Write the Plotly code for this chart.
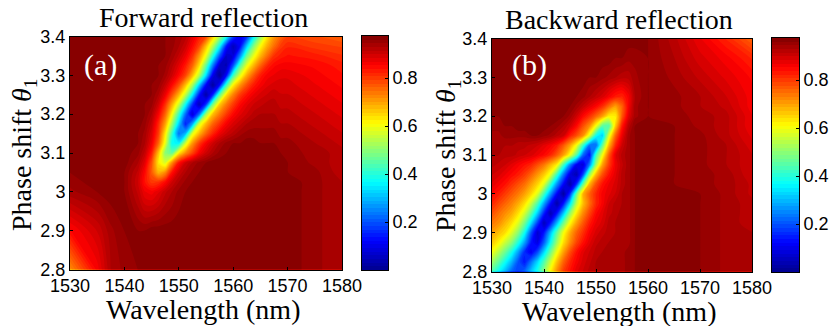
import plotly.graph_objects as go

# wavelength (nm) and phase grids, values in hundredths of reflectance
wave_a = [1530,1535,1537.5,1540,1542.5,1543.75,1545,1546.25,1547.5,1548.75,1550,1551.25,1552.5,1553.75,1555,1556.25,1557.5,1558.75,1560,1561.25,1562.5,1563.75,1565,1566.25,1567.5,1568.75,1570,1575,1580]
phase_a = [2.8,2.9,3.0,3.025,3.05,3.075,3.1,3.125,3.15,3.175,3.2,3.225,3.25,3.275,3.3,3.325,3.35,3.375,3.4]
forward = [
 [72,86,93,95,96]+[97]*22+[95,93],
 [85,90,94,96,96,96]+[97]*21+[95,93],
 [94,96,97,96,91,87,86,88,91,93,95,96]+[97]*15+[95,93],
 [95,97,97,96,90,84,80,81,85,90,93,95,96]+[97]*14+[95,93],
 [96,97,97,96,91,85,77,68,72,84,90,93,95,96]+[97]*12+[96,95,92],
 [97,97,97,97,93,88,78,63,57,72,84,90,93,95,96]+[97]*11+[96,94,92],
 [97,97,97,97,95,91,83,67,50,46,63,72,79,86,90,93,95,96]+[97]*6+[96,96,95,94,92],
 [97,97,97,97,96,93,87,76,59,37,36,57,71,80,86,90,93,95,96,96,97,97,96,96,96,95,95,93,91],
 [97,97,97,97,96,94,89,80,63,42,23,30,58,68,76,82,87,90,92,94,95,95,95,95,95,94,94,92,90],
 [97,97,97,97,97,95,91,82,70,52,32,15,28,57,68,76,81,86,89,91,93,94,94,94,94,93,93,91,89],
 [97,97,97,97,97,96,93,86,76,61,42,22,8,22,52,67,74,80,85,88,90,92,93,93,93,92,92,90,88],
 [97,97,97,97,97,96,95,90,81,69,56,37,17,5,17,48,66,74,80,85,88,90,91,92,92,91,91,89,87],
 [97,97,97,97,97,97,96,93,87,78,68,55,36,14,3,15,45,64,73,80,84,87,89,90,91,90,90,88,86],
 [97,97,97,97,97,97,96,95,91,85,78,67,53,32,12,2,12,42,62,71,78,83,86,88,89,89,89,87,85],
 [97,97,97,97,96,96,96,96,94,90,85,79,68,54,34,10,1,12,42,58,69,77,83,86,87,88,88,86,84],
 [97,97,97,97,96,96,96,96,95,92,88,83,76,64,46,24,6,4,20,44,59,68,76,82,85,86,86,85,83],
 [97,97,97,97,96,96,96,96,96,94,91,87,81,71,59,40,20,6,8,25,47,59,68,75,81,83,84,83,81],
 [97,97,97,97,96,96,96,96,96,95,93,90,85,79,67,54,37,14,5,12,32,49,61,69,75,80,82,80,79],
 [97,97,97,97,96,96,96,96,96,95,94,92,88,83,79,66,53,38,18,10,16,35,50,63,71,76,79,78,76],
]

wave_b = [1530,1531.25,1532.5,1533.75,1535,1536.25,1537.5,1538.75,1540,1541.25,1542.5,1543.75,1545,1546.25,1547.5,1548.75,1550,1551.25,1552.5,1553.75,1555,1556.25,1557.5,1560,1565,1570,1575,1580]
phase_b = [2.8,2.825,2.85,2.875,2.9,2.925,2.95,2.975,3.0,3.025,3.05,3.075,3.1,3.125,3.15,3.175,3.2,3.225,3.25,3.3,3.35,3.4]
backward = [
 [44,37,30,22,18,22,31,39,50,62,72,80,84,88,90,92,93,94,94,94,94,95,96,96,96,96,94,93],
 [52,46,38,30,20,14,23,33,44,56,67,76,82,86,89,91,93,94,94,94,94,95,96,96,96,96,94,93],
 [60,54,47,39,28,16,11,19,33,47,60,70,78,84,88,90,92,93,94,94,94,95,96,96,96,96,94,93],
 [66,62,56,50,40,28,14,9,21,37,52,64,72,79,84,88,91,92,93,94,94,94,96,96,96,96,94,93],
 [70,67,64,58,50,38,20,7,14,30,46,60,69,76,81,86,89,91,92,93,94,94,96,96,96,96,94,93],
 [74,72,68,64,58,48,34,18,5,14,30,47,61,70,77,83,87,89,92,93,94,94,96,96,96,96,94,92],
 [78,75,72,69,64,57,46,32,15,4,14,31,50,63,72,79,85,88,91,92,94,94,96,96,96,96,94,92],
 [82,79,76,73,69,64,56,44,28,13,3,14,34,55,67,75,82,86,90,92,93,94,96,96,96,96,94,92],
 [85,83,80,77,74,70,65,58,43,27,12,2,16,46,68,76,82,86,88,90,93,94,96,96,96,96,94,91],
 [88,86,84,81,78,75,70,65,58,42,26,12,3,16,46,68,78,84,87,89,92,94,96,96,96,95,94,91],
 [90,89,87,85,83,80,76,71,66,59,42,24,9,4,18,50,68,78,84,88,92,94,96,96,96,95,94,90],
 [92,91,90,88,86,84,82,78,74,68,62,43,25,11,8,24,52,70,80,87,91,94,96,96,96,95,93,90],
 [93,93,92,92,91,90,89,87,85,82,77,70,60,45,22,13,42,60,77,88,92,94,96,96,96,95,93,90],
 [94,94,93,93,92,92,91,90,88,86,83,77,70,60,42,23,22,46,68,82,90,94,96,96,96,95,93,89],
 [94,94,95,95,95,95,96,96,95,94,92,90,83,78,72,58,38,32,58,76,87,94,96,96,96,95,92,88],
 [95,95,96,96,97,97,97,97,97,96,95,93,90,85,78,72,60,45,44,66,83,92,96,96,96,94,92,87],
 [96,96,97,97,97,97,97,97,97,97,97,96,94,90,85,81,76,70,62,62,77,88,94,96,95,94,92,87],
 [96,97,97,97,97,97,97,97,97,97,97,97,96,94,91,88,85,81,75,70,76,86,94,96,95,93,91,86],
 [96,97,97,97,97,97,97,97,97,97,97,97,97,96,95,93,91,89,86,83,82,86,93,96,95,93,90,86],
 [97,97,97,97,97,97,97,97,97,97,97,97,97,97,97,96,96,95,94,93,92,92,94,96,94,91,88,85],
 [97,97,97,97,97,97,97,97,97,97,97,97,97,97,97,97,97,97,97,96,96,95,95,96,93,89,86,82],
 [97,97,97,97,97,97,97,97,97,97,97,97,97,97,97,97,97,97,97,97,97,97,97,96,92,87,82,76],
]

x_ticks = [1530,1540,1550,1560,1570,1580]
y_ticks = [2.8,2.9,3.0,3.1,3.2,3.3,3.4]
y_tick_labels = ["2.8","2.9","3","3.1","3.2","3.3","3.4"]
bar_ticks = [0.2,0.4,0.6,0.8]
bar_top = 0.975
bar_steps = 64

W, H = 831, 326
jet = [[0,"#00008F"],[0.125,"#0000FF"],[0.375,"#00FFFF"],[0.625,"#FFFF00"],[0.875,"#FF0000"],[1,"#800000"]]
SANS = "Liberation Sans"
SERIF = "Liberation Serif"
bar_levels = [(i + 0.5) * bar_top / bar_steps for i in range(bar_steps)]

def px(v): return v / W
def py(v): return 1 - v / H

def contour(xs, ys, table, xa, ya):
    return go.Contour(
        x=xs, y=ys, z=[[v / 100 for v in row] for row in table], xaxis=xa, yaxis=ya,
        colorscale=jet, zmin=0, zmax=bar_top, autocontour=False, showscale=False,
        contours=dict(start=0, end=bar_top, size=bar_top / bar_steps, coloring="fill", showlines=False),
        line=dict(width=0),
    )

def bar(xa, ya):
    return go.Heatmap(x=[0], y=bar_levels, z=[[v] for v in bar_levels], xaxis=xa, yaxis=ya,
                      colorscale=jet, zmin=0, zmax=bar_top, showscale=False)

fig = go.Figure()
fig.add_trace(contour(wave_a, phase_a, forward, "x", "y"))
fig.add_trace(contour(wave_b, phase_b, backward, "x2", "y2"))
fig.add_trace(bar("x3", "y3"))
fig.add_trace(bar("x4", "y4"))

def axis_style():
    return dict(mirror=True, showline=True, linecolor="black", linewidth=1, ticks="inside", ticklen=3,
                tickcolor="black", showgrid=False, zeroline=False, layer="above traces", automargin=False,
                tickangle=0, tickfont=dict(family=SANS, size=18, color="black"))

def bar_axes(x0, x1, y0, y1, anchor_x, anchor_y):
    xa = dict(domain=[px(x0), px(x1)], range=[-0.5, 0.5], anchor=anchor_y, showticklabels=False, ticks="",
              mirror=True, showline=True, linecolor="black", showgrid=False, zeroline=False, automargin=False)
    ya = dict(domain=[py(y1), py(y0)], range=[0, bar_top], anchor=anchor_x, side="right",
              tickvals=bar_ticks, ticktext=[str(t) for t in bar_ticks], **axis_style())
    return xa, ya

x3, y3 = bar_axes(361.5, 388, 36, 270, "x3", "y3")
x4, y4 = bar_axes(772, 799, 38, 272, "x4", "y4")
x3["anchor"] = "y3"
x4["anchor"] = "y4"

fig.update_layout(
    width=W, height=H, margin=dict(l=0, r=0, t=0, b=0), paper_bgcolor="white", plot_bgcolor="white",
    xaxis=dict(domain=[px(70), px(342)], range=[1530, 1580], tickvals=x_ticks, **axis_style()),
    yaxis=dict(domain=[py(269.5), py(36.5)], range=[2.8, 3.4], tickvals=y_ticks, ticktext=y_tick_labels, **axis_style()),
    xaxis2=dict(domain=[px(492), px(752)], range=[1530, 1580], tickvals=x_ticks, anchor="y2", **axis_style()),
    yaxis2=dict(domain=[py(271.5), py(38.5)], range=[2.8, 3.4], tickvals=y_ticks, ticktext=y_tick_labels, anchor="x2", **axis_style()),
    xaxis3=x3, yaxis3=y3, xaxis4=x4, yaxis4=y4,
)

def label(text, x, y, size, color="black", angle=0):
    fig.add_annotation(text=text, x=px(x), y=py(y), xref="paper", yref="paper", showarrow=False,
                       xanchor="center", yanchor="middle", textangle=angle,
                       font=dict(family=SERIF, size=size, color=color))

label("Forward reflection", 203, 17, 28)
label("Backward reflection", 619, 19, 28)
label("Wavelength (nm)", 203, 309, 28)
label("Wavelength (nm)", 619, 311, 28)
label("Phase shift <i>θ</i><sub>1</sub>", 24, 155, 28, angle=-90)
label("Phase shift <i>θ</i><sub>1</sub>", 448, 155, 28, angle=-90)
label("(a)", 100, 65, 30, color="white")
label("(b)", 529, 65, 30, color="white")

fig.write_html("out.html", config=dict(displayModeBar=False), post_script="document.body.style.margin='0';")
